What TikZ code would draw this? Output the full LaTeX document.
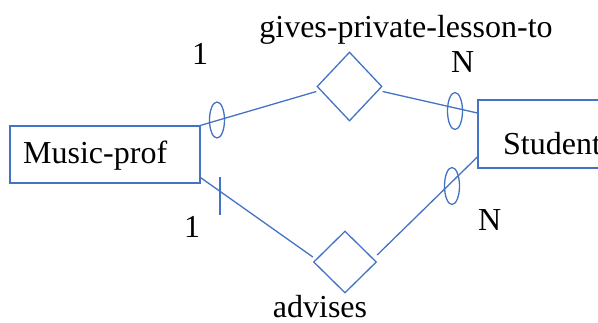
\documentclass[tikz,border=0pt]{standalone}
\usepackage{fontspec}
\setmainfont{Liberation Serif}
\usetikzlibrary{shapes.geometric}
\definecolor{erblue}{RGB}{68,114,196}
\begin{document}
\begin{tikzpicture}[x=1pt,y=-1pt,
  erline/.style={draw=erblue,line width=1.3pt},
  entity/.style={erline,rectangle,inner sep=0pt},
  relation/.style={erline,diamond,inner sep=0pt},
  card/.style={erline,ellipse,inner sep=0pt,minimum width=15pt,minimum height=36pt},
  lbl/.style={anchor=base west,inner sep=0pt,font=\fontsize{32}{38}\selectfont}]
\useasboundingbox (0,0) rectangle (598,322);
\clip (0,0) rectangle (598,322);
% entities
\node[entity,minimum width=190pt,minimum height=57pt] (mp) at (105,154.5) {};
\node[lbl] (mpt) at (23,163) {Music-prof};
\node[entity,minimum width=162pt,minimum height=68pt] (st) at (559,134) {};
\node[lbl] (stt) at (503,154) {Student};
% relations
\node[relation,minimum width=65pt,minimum height=69pt] (d1) at (349.5,86.5) {};
\node[relation,minimum width=63pt,minimum height=62pt] (d2) at (345,262) {};
% connector end points
\coordinate (a1) at ([yshift=-5pt]d1.west);
\coordinate (a2) at ([yshift=-5pt]d1.east);
\coordinate (a3) at ([yshift=21pt]st.west);
\coordinate (b0) at ([yshift=6pt]mp.south east);
\coordinate (b1) at ([yshift=5pt]d2.west);
\coordinate (b2) at ([yshift=7pt]d2.east);
\coordinate (b3) at ([yshift=-23pt]st.west);
% connectors
\draw[erline] (mp.north east) -- (a1);
\draw[erline] (a2) -- (a3);
\draw[erline] (b0) -- (b1);
\draw[erline] (b2) -- (b3);
% cardinality marks
\node[card] (e1) at (217,120) {};
\node[card,minimum height=37pt] (e2) at (455,111) {};
\node[card,minimum height=37pt] (e3) at (452,186) {};
\coordinate (t1) at (220,177);
\coordinate (t2) at (220,215);
\draw[erline] (t1) -- (t2);
% labels
\node[lbl] (l1) at (192,64) {1};
\node[lbl,anchor=base] (r1) at (406,37) {gives-private-lesson-to};
\node[lbl] (n1) at (451,72) {N};
\node[lbl] (l2) at (184,237) {1};
\node[lbl] (n2) at (478,230) {N};
\node[lbl,anchor=base] (r2) at (320,317) {advises};
\end{tikzpicture}
\end{document}
